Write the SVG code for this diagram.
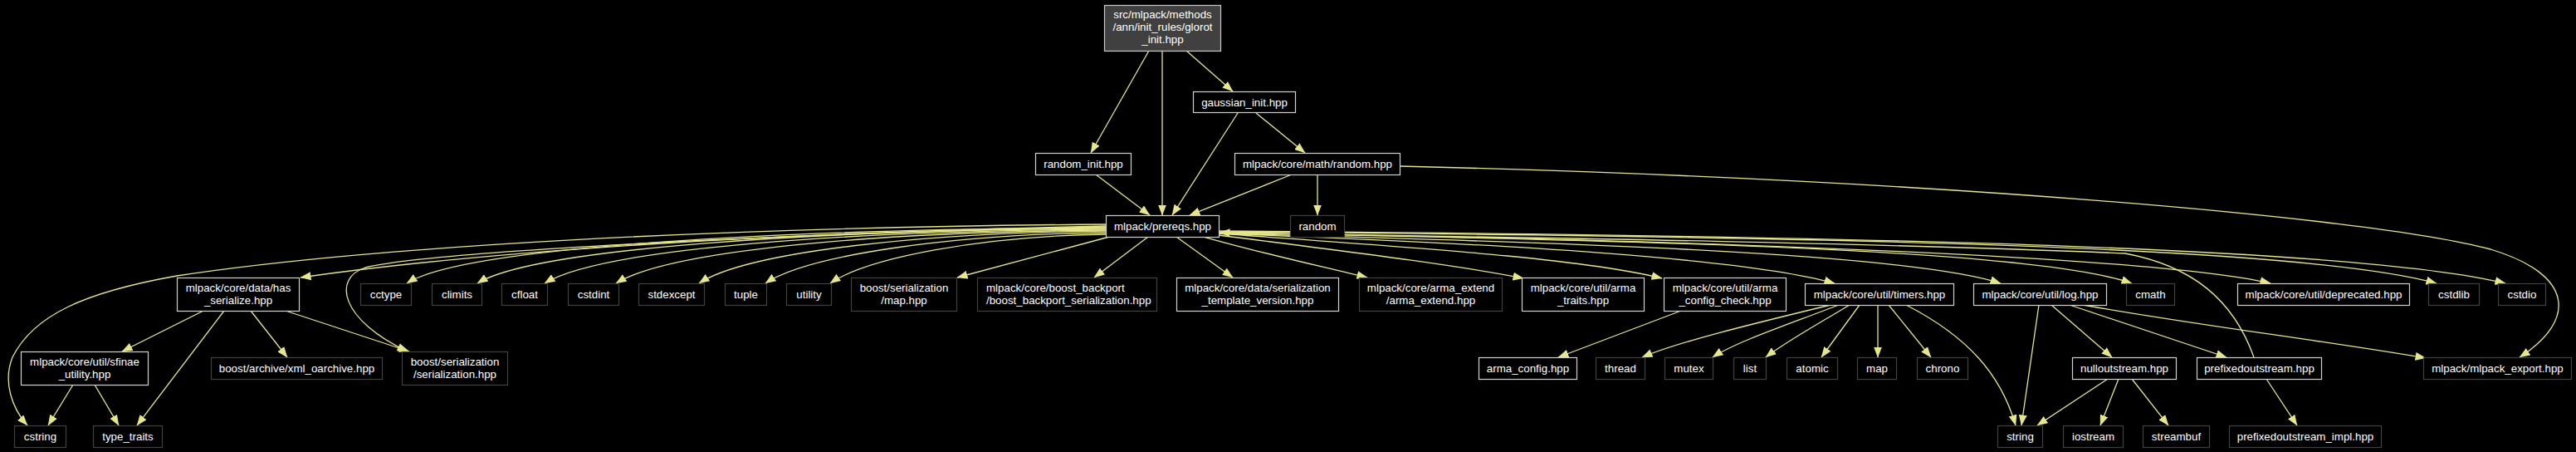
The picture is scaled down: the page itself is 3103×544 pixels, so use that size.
<svg xmlns="http://www.w3.org/2000/svg" width="3103" height="544" viewBox="0 0 3103 544">
<style>
.bg{fill:#000}
.n rect{fill:#000;stroke:#d0d0d0;stroke-width:1.2}
.n.x rect{stroke:#404040}
.n.root rect{fill:#404040;stroke:#c8c8c8}
.n text{fill:#fff;font-family:"Liberation Sans",Arial,Helvetica,sans-serif;font-size:13.33px;text-anchor:middle}
.n text.l{text-anchor:start}
#edges path{fill:none;stroke:#e6e68c;stroke-width:1.3;marker-end:url(#arr)}
</style>
<defs>
<marker id="arr" markerUnits="userSpaceOnUse" markerWidth="13" markerHeight="10" refX="12.5" refY="5" orient="auto">
<path d="M0,0 L13,5 L0,10 z" fill="#e6e68c"/>
</marker>
</defs>
<rect class="bg" x="0" y="0" width="3103" height="544"/>
<g id="edges">
<path d="M1384,61 L1314,184"/>
<path d="M1400,61 L1400,259"/>
<path d="M1429,61 L1485,110"/>
<path d="M1491,136 L1412,259"/>
<path d="M1513,136 L1572,184"/>
<path d="M1320,210 L1385,259"/>
<path d="M1556,210 L1433,259"/>
<path d="M1587,210 L1587,259"/>
<path d="M1686,200 C2300,215 2850,260 3000,300 C3100,330 3105,385 3035,430"/>
<path d="M1332,270 C880,273 450,296 213,332 C100,352 40,380 15,430 C3,460 15,492 33,512"/>
<path d="M1332,272 C950,280 600,300 362,334"/>
<path d="M1332,273 C900,283 520,303 440,322 C400,335 410,385 491,423"/>
<path d="M1332,274 C953,276 560,296 490,341"/>
<path d="M1332,275 C992,277 645,298 575,341"/>
<path d="M1332,276 C1028,278 726,298 656,341"/>
<path d="M1332,277 C1067,279 808,300 742,341"/>
<path d="M1332,278 C1112,280 900,303 842,341"/>
<path d="M1332,280 C1147,282 972,307 922,341"/>
<path d="M1332,282 C1183,284 1045,310 1000,341"/>
<path d="M1340,284 L1153,334"/>
<path d="M1383,285 L1318,334"/>
<path d="M1417,285 L1485,334"/>
<path d="M1450,285 C1520,305 1590,320 1647,334"/>
<path d="M1468,283 C1600,300 1750,318 1835,335"/>
<path d="M1468,281 C1700,298 1900,310 2002,335"/>
<path d="M1468,281 C1800,293 2100,310 2210,341"/>
<path d="M1468,281 C1900,292 2300,305 2410,341"/>
<path d="M1468,280 C2000,290 2450,300 2568,341"/>
<path d="M1468,280 C2100,290 2600,310 2735,341"/>
<path d="M1468,279 C2250,285 2780,298 2935,341"/>
<path d="M1468,278 C2300,284 2850,300 3018,341"/>
<path d="M2715,430 C2690,360 2640,320 2560,305 C2200,290 1700,284 1469,280"/>
<path d="M245,374 L147,423"/>
<path d="M270,374 L165,512"/>
<path d="M302,374 L346,430"/>
<path d="M344,374 L493,423"/>
<path d="M88,463 L58,512"/>
<path d="M114,463 L143,512"/>
<path d="M2025,374 L1877,430"/>
<path d="M2205,367 C2110,390 2020,412 1978,430"/>
<path d="M2215,367 C2150,392 2090,412 2063,430"/>
<path d="M2228,367 C2190,390 2150,412 2127,430"/>
<path d="M2240,367 L2194,430"/>
<path d="M2262,367 L2262,430"/>
<path d="M2275,367 L2326,430"/>
<path d="M2296,367 C2370,405 2410,450 2428,512"/>
<path d="M2456,367 L2435,512"/>
<path d="M2471,367 L2544,430"/>
<path d="M2493,367 L2682,430"/>
<path d="M2509,367 C2650,392 2800,410 2922,431"/>
<path d="M2539,456 L2454,512"/>
<path d="M2552,456 L2530,512"/>
<path d="M2568,456 L2612,512"/>
<path d="M2730,456 L2767,512"/>
</g>
<g id="n0" class="n root"><rect x="1330.5" y="6.5" width="140" height="55"/><text x="1400.5" y="22">src/mlpack/methods</text><text x="1400.5" y="37">/ann/init_rules/glorot</text><text x="1400.5" y="51.5">_init.hpp</text></g>
<g id="n1" class="n"><rect x="1437.5" y="110.5" width="123" height="25"/><text x="1499" y="127.5">gaussian_init.hpp</text></g>
<g id="n2" class="n"><rect x="1247.5" y="184.5" width="115" height="26"/><text x="1305" y="202">random_init.hpp</text></g>
<g id="n3" class="n"><rect x="1487.5" y="184.5" width="199" height="26"/><text x="1587" y="202">mlpack/core/math/random.hpp</text></g>
<g id="n4" class="n"><rect x="1332.5" y="259.5" width="136" height="26"/><text x="1400.5" y="277">mlpack/prereqs.hpp</text></g>
<g id="n5" class="n x"><rect x="1554.5" y="259.5" width="65" height="26"/><text x="1587" y="277">random</text></g>
<g id="n6" class="n"><rect x="213.5" y="334.5" width="147" height="40"/><text x="287" y="351">mlpack/core/data/has</text><text x="287" y="366">_serialize.hpp</text></g>
<g id="n7" class="n x"><rect x="434.5" y="341.5" width="61" height="26"/><text x="465" y="359">cctype</text></g>
<g id="n8" class="n x"><rect x="520.5" y="341.5" width="60" height="26"/><text x="550.5" y="359">climits</text></g>
<g id="n9" class="n x"><rect x="604.5" y="341.5" width="55" height="26"/><text x="632" y="359">cfloat</text></g>
<g id="n10" class="n x"><rect x="684.5" y="341.5" width="61" height="26"/><text x="715" y="359">cstdint</text></g>
<g id="n11" class="n x"><rect x="769.5" y="341.5" width="79" height="26"/><text x="809" y="359">stdexcept</text></g>
<g id="n12" class="n x"><rect x="873.5" y="341.5" width="50" height="26"/><text x="898.5" y="359">tuple</text></g>
<g id="n13" class="n x"><rect x="947.5" y="341.5" width="54" height="26"/><text x="974.5" y="359">utility</text></g>
<g id="n14" class="n x"><rect x="1025.5" y="334.5" width="127" height="40"/><text x="1089" y="351">boost/serialization</text><text x="1089" y="366">/map.hpp</text></g>
<g id="n15" class="n x"><rect x="1177.5" y="334.5" width="216" height="40"/><text class="l" x="1188" y="351">mlpack/core/boost_backport</text><text class="l" x="1188" y="366">/boost_backport_serialization.hpp</text></g>
<g id="n16" class="n"><rect x="1417.5" y="334.5" width="195" height="40"/><text x="1515" y="351">mlpack/core/data/serialization</text><text x="1515" y="366">_template_version.hpp</text></g>
<g id="n17" class="n x"><rect x="1637.5" y="334.5" width="172" height="40"/><text x="1723.5" y="351">mlpack/core/arma_extend</text><text x="1723.5" y="366">/arma_extend.hpp</text></g>
<g id="n18" class="n"><rect x="1833.5" y="334.5" width="147" height="40"/><text x="1907" y="351">mlpack/core/util/arma</text><text x="1907" y="366">_traits.hpp</text></g>
<g id="n19" class="n"><rect x="2004.5" y="334.5" width="147" height="40"/><text x="2078" y="351">mlpack/core/util/arma</text><text x="2078" y="366">_config_check.hpp</text></g>
<g id="n20" class="n"><rect x="2174.5" y="341.5" width="179" height="26"/><text x="2264" y="359">mlpack/core/util/timers.hpp</text></g>
<g id="n21" class="n"><rect x="2377.5" y="341.5" width="160" height="26"/><text x="2457.5" y="359">mlpack/core/util/log.hpp</text></g>
<g id="n22" class="n x"><rect x="2561.5" y="341.5" width="58" height="26"/><text x="2590.5" y="359">cmath</text></g>
<g id="n23" class="n"><rect x="2695.5" y="341.5" width="207" height="26"/><text x="2799" y="359">mlpack/core/util/deprecated.hpp</text></g>
<g id="n24" class="n x"><rect x="2925.5" y="341.5" width="61" height="26"/><text x="2956" y="359">cstdlib</text></g>
<g id="n25" class="n x"><rect x="3009.5" y="341.5" width="57" height="26"/><text x="3038" y="359">cstdio</text></g>
<g id="n26" class="n"><rect x="25.5" y="423.5" width="153" height="40"/><text x="102" y="440">mlpack/core/util/sfinae</text><text x="102" y="455">_utility.hpp</text></g>
<g id="n27" class="n x"><rect x="254.5" y="430.5" width="206" height="26"/><text x="357.5" y="448">boost/archive/xml_oarchive.hpp</text></g>
<g id="n28" class="n x"><rect x="484.5" y="423.5" width="127" height="40"/><text x="548" y="440">boost/serialization</text><text x="548" y="455">/serialization.hpp</text></g>
<g id="n29" class="n"><rect x="1781.5" y="430.5" width="118" height="26"/><text x="1840.5" y="448">arma_config.hpp</text></g>
<g id="n30" class="n x"><rect x="1922.5" y="430.5" width="59" height="26"/><text x="1952" y="448">thread</text></g>
<g id="n31" class="n x"><rect x="2005.5" y="430.5" width="58" height="26"/><text x="2034.5" y="448">mutex</text></g>
<g id="n32" class="n x"><rect x="2088.5" y="430.5" width="39" height="26"/><text x="2108" y="448">list</text></g>
<g id="n33" class="n x"><rect x="2152.5" y="430.5" width="61" height="26"/><text x="2183" y="448">atomic</text></g>
<g id="n34" class="n x"><rect x="2237.5" y="430.5" width="47" height="26"/><text x="2261" y="448">map</text></g>
<g id="n35" class="n x"><rect x="2309.5" y="430.5" width="61" height="26"/><text x="2340" y="448">chrono</text></g>
<g id="n36" class="n"><rect x="2496.5" y="430.5" width="125" height="26"/><text x="2559" y="448">nulloutstream.hpp</text></g>
<g id="n37" class="n"><rect x="2646.5" y="430.5" width="150" height="26"/><text x="2721.5" y="448">prefixedoutstream.hpp</text></g>
<g id="n38" class="n x"><rect x="2919.5" y="430.5" width="178" height="26"/><text x="3008.5" y="448">mlpack/mlpack_export.hpp</text></g>
<g id="n39" class="n x"><rect x="17.5" y="512.5" width="62" height="26"/><text x="48.5" y="530">cstring</text></g>
<g id="n40" class="n x"><rect x="112.5" y="512.5" width="83" height="26"/><text x="154" y="530">type_traits</text></g>
<g id="n41" class="n x"><rect x="2406.5" y="512.5" width="54" height="26"/><text x="2433.5" y="530">string</text></g>
<g id="n42" class="n x"><rect x="2485.5" y="512.5" width="72" height="26"/><text x="2521.5" y="530">iostream</text></g>
<g id="n43" class="n x"><rect x="2581.5" y="512.5" width="80" height="26"/><text x="2621.5" y="530">streambuf</text></g>
<g id="n44" class="n x"><rect x="2685.5" y="512.5" width="183" height="26"/><text x="2777" y="530">prefixedoutstream_impl.hpp</text></g>
</svg>
